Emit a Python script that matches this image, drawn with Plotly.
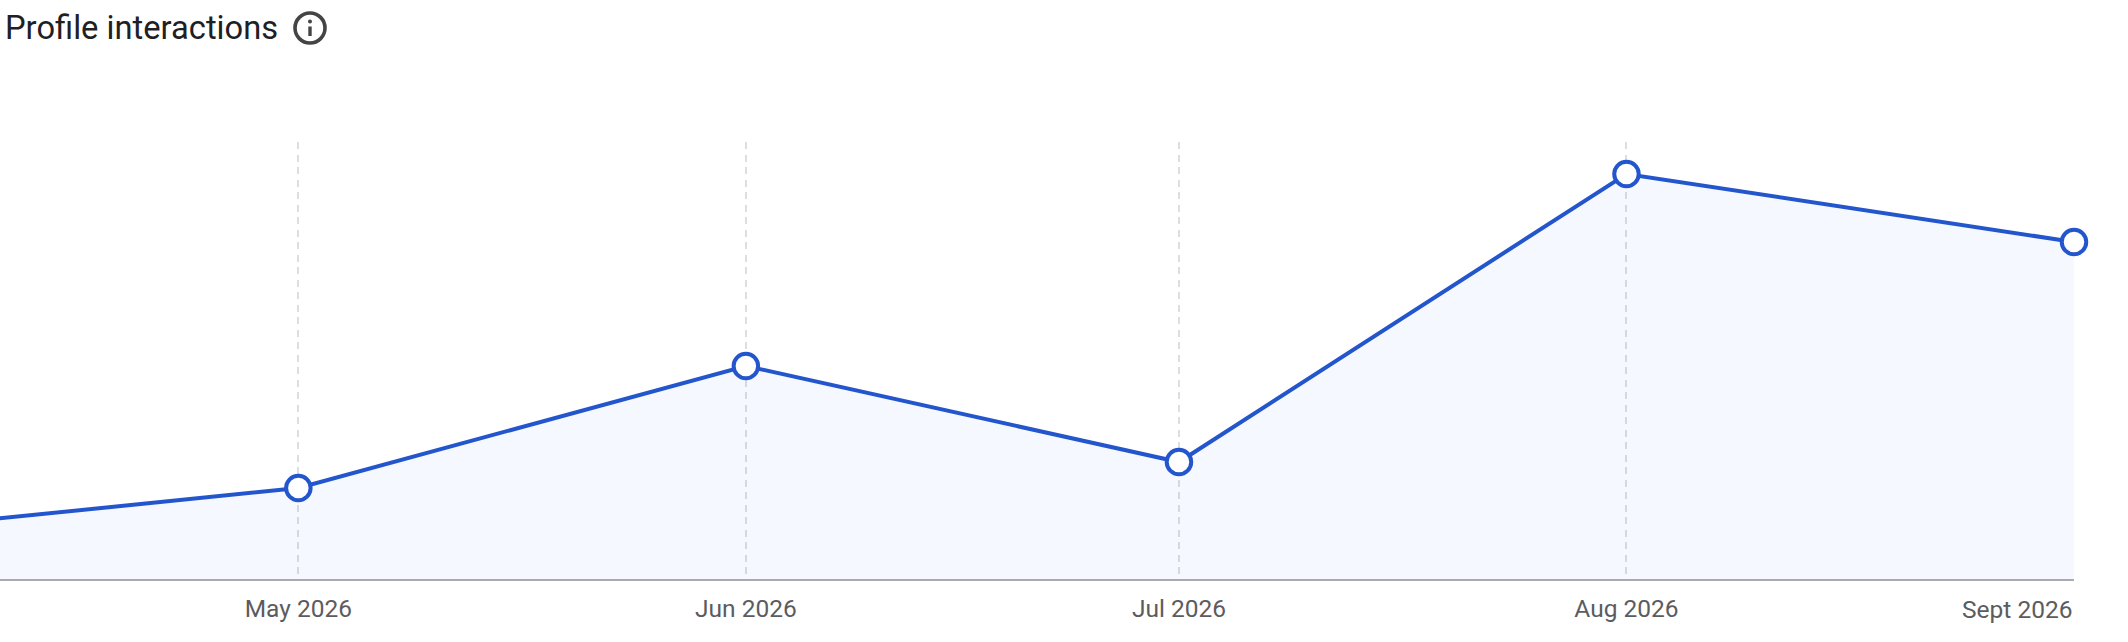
import plotly.graph_objects as go

months = ["2026-04-01", "2026-05-01", "2026-06-01", "2026-07-01", "2026-08-01", "2026-09-01"]
interactions = [47, 91, 213, 117, 405, 337]
tick_dates = months[1:]
tick_labels = ["May 2026", "Jun 2026", "Jul 2026", "Aug 2026", "Sept 2026"]

BLUE = "#2356cc"
GRID = "#dcdee4"
LABEL = "#5c5c5f"
FONT = "Roboto"

fig = go.Figure()
fig.add_trace(go.Scatter(
    x=months, y=interactions,
    mode="lines+markers",
    line=dict(color=BLUE, width=4),
    marker=dict(size=24.5, color="white", line=dict(color=BLUE, width=4)),
    fill="tozeroy",
    fillcolor="rgba(40,100,255,0.045)",
    cliponaxis=False,
    hoverinfo="x+y",
))

# last label sits right aligned on its gridline, so it can't be a normal tick label
fig.add_annotation(
    x=tick_dates[-1], xref="x", xanchor="right",
    y=0, yref="paper", yanchor="top", yshift=-14,
    text=tick_labels[-1], showarrow=False,
    font=dict(family=FONT, size=24.5, color=LABEL),
)
fig.add_annotation(
    x=0, xref="paper", xanchor="left", xshift=3,
    y=1, yref="paper", yanchor="middle", yshift=114,
    text="Profile interactions", showarrow=False,
    font=dict(family=FONT, size=32.7, color="#1f2024"),
)

# info icon next to the title, in pixels from the top left of the page
W, H = 2128, 642
L, R, T, B = 0, 54, 142, 63


def px_x(v):
    return (v - L) / (W - L - R)


def px_y(v):
    return 1 - (v - T) / (H - T - B)


ICON = "#444444"
fig.add_shape(type="circle", xref="paper", yref="paper",
              x0=px_x(295), x1=px_x(325), y0=px_y(13), y1=px_y(43),
              line=dict(color=ICON, width=3.6))
fig.add_shape(type="rect", xref="paper", yref="paper",
              x0=px_x(308.3), x1=px_x(311.7), y0=px_y(26.5), y1=px_y(36),
              fillcolor=ICON, line=dict(width=0))
fig.add_shape(type="circle", xref="paper", yref="paper",
              x0=px_x(308), x1=px_x(312), y0=px_y(19.5), y1=px_y(23.5),
              fillcolor=ICON, line=dict(width=0))

fig.update_xaxes(
    type="date",
    range=["2026-04-10 08:00", "2026-09-01"],
    tickmode="array",
    tickvals=tick_dates,
    ticktext=tick_labels[:-1] + [""],
    tickfont=dict(family=FONT, size=24.5, color=LABEL),
    ticks="",
    ticklabelstandoff=7,
    showgrid=True,
    gridcolor=GRID,
    gridwidth=2,
    griddash="7px,5.5px",
    showline=True,
    linecolor="#a9aab0",
    linewidth=1.5,
    zeroline=False,
)
fig.update_yaxes(range=[0, 437], showgrid=False, zeroline=False, showticklabels=False, showline=False)
fig.update_layout(
    width=W, height=H,
    margin=dict(l=L, r=R, t=T, b=B, pad=0),
    paper_bgcolor="white",
    plot_bgcolor="white",
    showlegend=False,
    font=dict(family=FONT),
)
fig.write_html("out.html", config=dict(displayModeBar=False),
               post_script="document.body.style.margin='0';")
